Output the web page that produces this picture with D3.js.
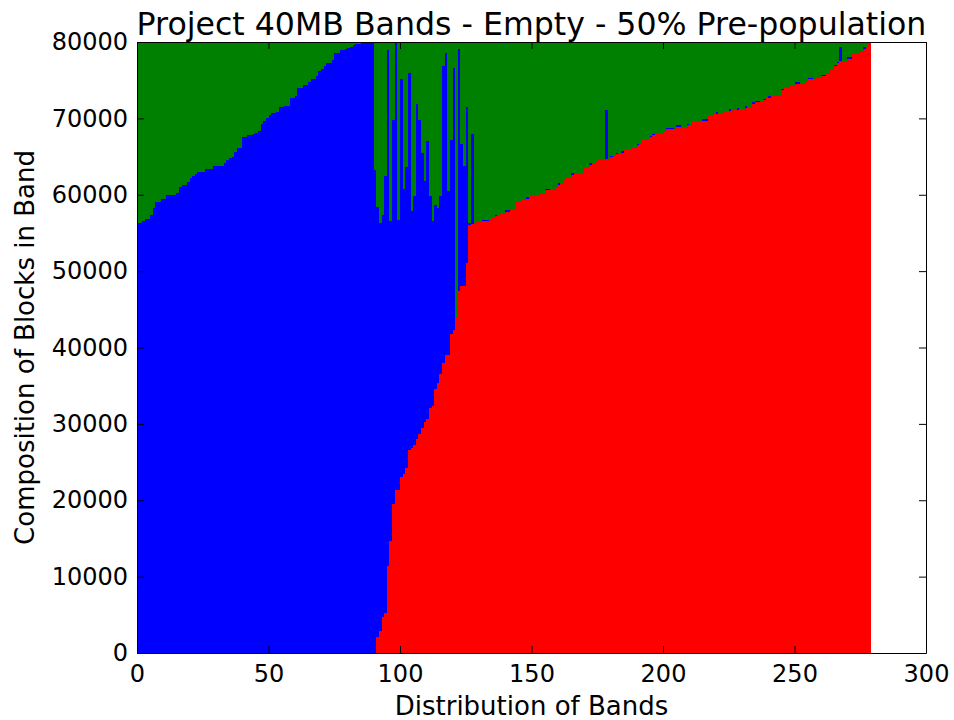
<!DOCTYPE html>
<html>
<head>
<meta charset="utf-8">
<script src="https://cdn.jsdelivr.net/npm/d3@7"></script>
<style>
  body { margin: 0; background: #fff; }
  svg text { font-family: "DejaVu Sans", sans-serif; fill: #000; }
</style>
</head>
<body>
<div id="chart"></div>
<script>
// blocks per band, stacked red -> blue -> green (band index = position in array)
const red = [
    0, 0, 0, 0, 0, 0, 0, 0, 0, 0,
    0, 0, 0, 0, 0, 0, 0, 0, 0, 0,
    0, 0, 0, 0, 0, 0, 0, 0, 0, 0,
    0, 0, 0, 0, 0, 0, 0, 0, 0, 0,
    0, 0, 0, 0, 0, 0, 0, 0, 0, 0,
    0, 0, 0, 0, 0, 0, 0, 0, 0, 0,
    0, 0, 0, 0, 0, 0, 0, 0, 0, 0,
    0, 0, 0, 0, 0, 0, 0, 0, 0, 0,
    0, 0, 0, 0, 0, 0, 0, 0, 0, 0,
    0, 2100, 2900, 4700, 5200, 11400, 14700, 19500, 21300, 21300,
    23000, 23500, 24200, 26600, 26900, 27200, 28000, 28700, 29400, 30300,
    30600, 32100, 32300, 34600, 35300, 36500, 38000, 39000, 39000, 41800,
    42300, 44000, 47400, 48000, 48100, 51000, 56100, 56200, 56200, 56400,
    56400, 56500, 56500, 56500, 56700, 57000, 57200, 57400, 57500, 57500,
    57800, 57800, 58000, 58000, 59100, 59100, 59300, 59300, 59500, 59800,
    60000, 60000, 60000, 60100, 60100, 60600, 60600, 60700, 60700, 61000,
    61300, 61500, 62000, 62200, 62200, 62600, 62800, 62800, 62900, 62900,
    63600, 63600, 63900, 64100, 64300, 64500, 64600, 64600, 64700, 64700,
    64900, 65200, 65300, 65500, 65500, 66000, 66000, 66000, 66300, 66300,
    66500, 66700, 67200, 67300, 67300, 67500, 67800, 68100, 68100, 68100,
    68300, 68600, 68600, 68600, 68600, 68900, 68900, 68900, 68900, 69100,
    69100, 69600, 69600, 69600, 69600, 69700, 69700, 70300, 70300, 70600,
    70600, 70700, 70700, 71000, 71000, 71000, 71100, 71100, 71100, 71200,
    71200, 71400, 71400, 71400, 71900, 72100, 72100, 72300, 72400, 72700,
    72700, 72900, 72900, 73000, 73000, 73700, 74100, 74100, 74200, 74200,
    74500, 74500, 74600, 74600, 74800, 75100, 75100, 75200, 75400, 75400,
    75500, 75500, 75900, 76300, 76500, 76800, 77200, 77500, 77500, 77500,
    77800, 77800, 78600, 78600, 78600, 78800, 79100, 79300, 79700
]
const blue = [
    56300, 56300, 56600, 56800, 56800, 57400, 58300, 59100, 59100, 59400,
    59400, 60000, 60000, 60000, 60000, 60200, 61000, 61300, 61300, 61700,
    62200, 62500, 62700, 63000, 63000, 63000, 63400, 63400, 63400, 63700,
    63800, 63800, 63800, 64100, 64500, 64800, 65000, 65600, 66100, 66100,
    67600, 67600, 67800, 67800, 68000, 68100, 68400, 69200, 69600, 70000,
    70400, 70700, 70700, 70900, 71500, 71500, 71600, 71600, 72700, 72700,
    72900, 74000, 74000, 74400, 74400, 74800, 75100, 75100, 75500, 76200,
    76500, 76800, 77200, 77300, 77600, 78600, 78600, 78900, 78900, 79100,
    79200, 79400, 79600, 79700, 79700, 80000, 80000, 80000, 80000, 80000,
    63200, 56300, 53400, 52700, 57300, 67500, 41900, 50300, 58700, 35400,
    52100, 37200, 39400, 49300, 31000, 32700, 43900, 41100, 36100, 31500,
    36500, 27800, 24300, 24000, 22900, 23400, 38800, 39500, 21500, 25400,
    34300, 0, 31700, 18700, 15600, 20500, 200, 11800, 0, 0,
    0, 200, 200, 200, 0, 0, 200, 0, 0, 0,
    200, 200, 0, 0, 0, 0, 0, 0, 200, 0,
    0, 0, 0, 0, 0, 200, 200, 0, 0, 0,
    200, 0, 0, 0, 0, 200, 0, 0, 0, 0,
    0, 0, 200, 0, 0, 0, 0, 0, 6400, 0,
    200, 0, 200, 0, 200, 0, 0, 0, 0, 0,
    200, 0, 0, 0, 0, 200, 200, 0, 0, 0,
    0, 200, 200, 200, 0, 200, 200, 0, 0, 200,
    0, 0, 0, 0, 0, 200, 200, 0, 0, 0,
    200, 0, 0, 0, 0, 200, 0, 0, 200, 0,
    0, 200, 0, 0, 200, 200, 200, 0, 200, 0,
    200, 0, 0, 0, 0, 200, 0, 0, 0, 0,
    200, 200, 0, 0, 0, 200, 200, 0, 0, 0,
    200, 200, 0, 0, 0, 200, 200, 1900, 0, 0,
    200, 200, 0, 0, 0, 0, 200, 0, 0
]
const green = [
    23700, 23700, 23400, 23200, 23200, 22600, 21700, 20900, 20900, 20600,
    20600, 20000, 20000, 20000, 20000, 19800, 19000, 18700, 18700, 18300,
    17800, 17500, 17300, 17000, 17000, 17000, 16600, 16600, 16600, 16300,
    16200, 16200, 16200, 15900, 15500, 15200, 15000, 14400, 13900, 13900,
    12400, 12400, 12200, 12200, 12000, 11900, 11600, 10800, 10400, 10000,
    9600, 9300, 9300, 9100, 8500, 8500, 8400, 8400, 7300, 7300,
    7100, 6000, 6000, 5600, 5600, 5200, 4900, 4900, 4500, 3800,
    3500, 3200, 2800, 2700, 2400, 1400, 1400, 1100, 1100, 900,
    800, 600, 400, 300, 300, 0, 0, 0, 0, 0,
    16800, 21600, 23700, 22600, 17500, 1100, 23400, 10200, 0, 23300,
    4900, 19300, 16400, 4100, 22100, 20100, 8100, 10200, 14500, 18200,
    12900, 20100, 23400, 21400, 21800, 20100, 3200, 1500, 19500, 12800,
    3400, 36000, 900, 13300, 16300, 8500, 23700, 12000, 23800, 23600,
    23600, 23300, 23300, 23300, 23300, 23000, 22600, 22600, 22500, 22500,
    22000, 22000, 22000, 22000, 20900, 20900, 20700, 20700, 20300, 20200,
    20000, 20000, 20000, 19900, 19900, 19200, 19200, 19300, 19300, 19000,
    18500, 18500, 18000, 17800, 17800, 17200, 17200, 17200, 17100, 17100,
    16400, 16400, 15900, 15900, 15700, 15500, 15400, 15400, 8900, 15300,
    14900, 14800, 14500, 14500, 14300, 14000, 14000, 14000, 13700, 13700,
    13300, 13300, 12800, 12700, 12700, 12300, 12000, 11900, 11900, 11900,
    11700, 11200, 11200, 11200, 11400, 10900, 10900, 11100, 11100, 10700,
    10900, 10400, 10400, 10400, 10400, 10100, 10100, 9700, 9700, 9400,
    9200, 9300, 9300, 9000, 9000, 8800, 8900, 8900, 8700, 8800,
    8800, 8400, 8600, 8600, 7900, 7700, 7700, 7700, 7400, 7300,
    7100, 7100, 7100, 7000, 7000, 6100, 5900, 5900, 5800, 5800,
    5300, 5300, 5400, 5400, 5200, 4700, 4700, 4800, 4600, 4600,
    4300, 4300, 4100, 3700, 3500, 3000, 2600, 600, 2500, 2500,
    2000, 2000, 1400, 1400, 1400, 1200, 700, 700, 300
]
const seriesKeys = ['red', 'blue', 'green']
const xTicks = [0, 50, 100, 150, 200, 250, 300]
const yTicks = [0, 10000, 20000, 30000, 40000, 50000, 60000, 70000, 80000]

const width = 954,
    height = 720
const margin = { top: 42, right: 28, bottom: 67, left: 137 }

const colors = { red: '#ff0000', blue: '#0000ff', green: '#008000' }

let rows = red.map(function(d, i) {
    return { band: i, red: d, blue: blue[i], green: green[i] }
})

const x = d3.scaleLinear()
    .domain([0, 300])
    .range([margin.left, width - margin.right])

const y = d3.scaleLinear()
    .domain([0, 80000])
    .range([height - margin.bottom, margin.top])

const svg = d3.select('#chart')
    .append('svg')
    .attr('width', width)
    .attr('height', height)

const stacked = d3.stack().keys(seriesKeys)(rows)

svg.append('g')
    .selectAll('g')
    .data(stacked)
    .enter().append('g')
    .attr('fill', d => colors[d.key])
    .selectAll('rect')
    .data(d => d)
    .enter().append('rect')
    .attr('shape-rendering', 'crispEdges')
    .attr('x', d => x(d.data.band))
    .attr('width', d => x(d.data.band + 1) - x(d.data.band))
    .attr('y', d => y(d[1]))
    .attr('height', d => y(d[0]) - y(d[1]))

function styleAxis(g) {
    g.attr('font-size', 24).attr('font-family', '"DejaVu Sans", sans-serif')
    g.selectAll('line').attr('stroke', '#000')
    g.select('.domain').attr('stroke', '#000')
}

svg.append('g')
    .attr('transform', `translate(0,${height - margin.bottom})`)
    .call(d3.axisBottom(x).tickValues(xTicks).tickSizeInner(-7).tickSizeOuter(0)
        .tickPadding(12).tickFormat(d3.format('d')))
    .call(styleAxis)

svg.append('g')
    .attr('transform', `translate(${margin.left},0)`)
    .call(d3.axisLeft(y).tickValues(yTicks).tickSizeInner(-7).tickSizeOuter(0)
        .tickPadding(9).tickFormat(d3.format('d')))
    .call(styleAxis)

svg.append('g')
    .attr('transform', `translate(0,${margin.top})`)
    .call(d3.axisTop(x).tickValues(xTicks).tickSizeInner(-7).tickSizeOuter(0).tickFormat(() => ''))
    .call(styleAxis)

svg.append('g')
    .attr('transform', `translate(${width - margin.right},0)`)
    .call(d3.axisRight(y).tickValues(yTicks).tickSizeInner(-7).tickSizeOuter(0).tickFormat(() => ''))
    .call(styleAxis)

const cx = (margin.left + width - margin.right) / 2
const cy = (margin.top + height - margin.bottom) / 2

svg.append('text')
    .attr('x', cx)
    .attr('y', 35)
    .attr('text-anchor', 'middle')
    .attr('font-size', 31.6)
    .text('Project 40MB Bands - Empty - 50% Pre-population')

svg.append('text')
    .attr('x', cx)
    .attr('y', 715)
    .attr('text-anchor', 'middle')
    .attr('font-size', 26)
    .text('Distribution of Bands')

svg.append('text')
    .attr('transform', `translate(34,${cy}) rotate(-90)`)
    .attr('text-anchor', 'middle')
    .attr('font-size', 26)
    .text('Composition of Blocks in Band')
</script>
</body>
</html>
